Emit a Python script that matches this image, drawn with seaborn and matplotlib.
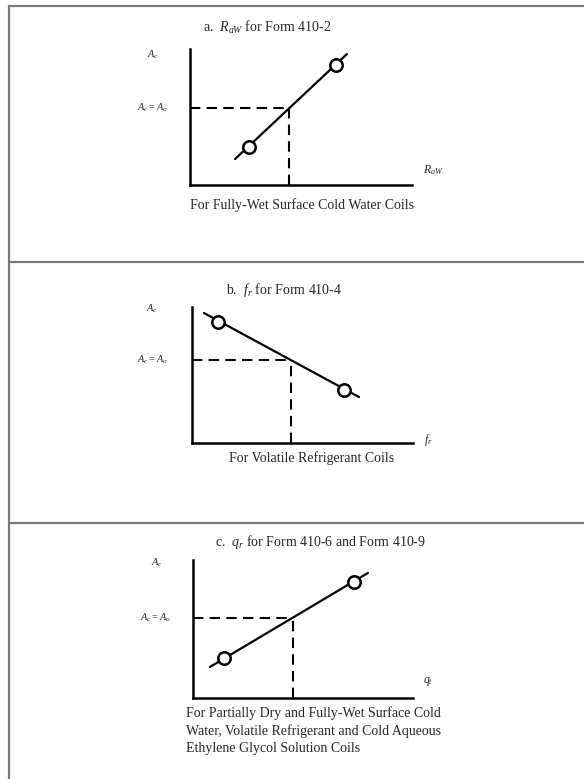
import seaborn as sns
import matplotlib.pyplot as plt
from matplotlib.lines import Line2D
import pandas as pd

# schematic lines (abstract units, axis box = 0..10 in both directions)
line_x_a = [2.03, 7.07]
line_y_a = [1.91, 9.63]
circ_x_a = [2.66, 6.58]
circ_y_a = [2.79, 8.82]
cross_a = [4.46, 5.66]

line_x_b = [0.54, 7.56]
line_y_b = [9.56, 3.38]
circ_x_b = [1.18, 6.88]
circ_y_b = [8.90, 3.90]
cross_b = [4.48, 6.10]

line_x_c = [0.77, 7.95]
line_y_c = [2.25, 9.06]
circ_x_c = [1.41, 7.32]
circ_y_c = [2.90, 8.41]
cross_c = [4.55, 5.80]

titles = ["a.  $R_{aW}$ for Form 410-2",
          "b.  $f_r$ for Form 410-4",
          "c.  $q_r$ for Form 410-6 and Form 410-9"]
xlabels = ["$R_{aW}$", "$f_r$", "$q_t$"]
captions = ["For Fully-Wet Surface Cold Water Coils",
            "For Volatile Refrigerant Coils",
            "For Partially Dry and Fully-Wet Surface Cold\n"
            "Water, Volatile Refrigerant and Cold Aqueous\n"
            "Ethylene Glycol Solution Coils"]

sns.set_style("white")
plt.rcParams['font.family'] = ['Liberation Serif', 'DejaVu Serif']
plt.rcParams['mathtext.fontset'] = 'custom'
plt.rcParams['mathtext.rm'] = 'Liberation Serif'
plt.rcParams['mathtext.it'] = 'Liberation Serif:italic'

W, H = 584, 779
fig = plt.figure(figsize=(W / 100, H / 100), dpi=100)


def fx(px):
    return px / W


def fy(py):
    return 1 - py / H


# outer frame and dividers
frame_col = "#7a7a7a"
for y in [6, 262, 523]:
    fig.add_artist(Line2D([fx(9), 1], [fy(y), fy(y)], color=frame_col, lw=1.6))
fig.add_artist(Line2D([fx(9), fx(9)], [fy(6), 0], color=frame_col, lw=1.6))

# per-panel layout in pixels: axis box, title pos, label pos, caption pos
boxes = [(190, 49, 412, 185), (192, 307, 413, 443), (193, 560, 413, 698)]
title_pos = [(267, 27), (284, 290), (320, 542)]
ac_pos = [(153, 55), (152, 309), (157, 563)]
aco_pos = [(152, 108), (152, 360), (155, 618)]
xl_pos = [(433, 170), (428, 440), (428, 682)]

data = [
    (line_x_a, line_y_a, circ_x_a, circ_y_a, cross_a),
    (line_x_b, line_y_b, circ_x_b, circ_y_b, cross_b),
    (line_x_c, line_y_c, circ_x_c, circ_y_c, cross_c),
]

for i, (lx, ly, cx, cy, cr) in enumerate(data):
    x0, y0, x1, y1 = boxes[i]
    ax = fig.add_axes([fx(x0), fy(y1), (x1 - x0) / W, (y1 - y0) / H])
    ax.set_xlim(0, 10)
    ax.set_ylim(0, 10)
    ax.set_facecolor("none")
    for s in ["top", "right"]:
        ax.spines[s].set_visible(False)
    for s in ["left", "bottom"]:
        ax.spines[s].set_color("black")
        ax.spines[s].set_linewidth(1.8)
    ax.set_xticks([])
    ax.set_yticks([])

    line_df = pd.DataFrame({"x": lx, "y": ly})
    sns.lineplot(data=line_df, x="x", y="y", ax=ax, color="black", lw=1.6)
    circ_df = pd.DataFrame({"x": cx, "y": cy})
    sns.scatterplot(data=circ_df, x="x", y="y", ax=ax, s=80, marker="o",
                    facecolor="white", edgecolor="black", linewidth=1.8,
                    zorder=5)
    # dashed guides to the operating point
    ax.plot([0, cr[0]], [cr[1], cr[1]], color="black", lw=1.5,
            ls=(0, (5, 3)), clip_on=False)
    ax.plot([cr[0], cr[0]], [0, cr[1]], color="black", lw=1.5,
            ls=(0, (5, 3)), clip_on=False)
    ax.set_xlabel("")
    ax.set_ylabel("")

    fig.text(fx(title_pos[i][0]), fy(title_pos[i][1]), titles[i],
             ha="center", va="center", fontsize=10)
    fig.text(fx(ac_pos[i][0]), fy(ac_pos[i][1]), "$A_c$",
             ha="center", va="center", fontsize=7.5)
    fig.text(fx(aco_pos[i][0]), fy(aco_pos[i][1]), "$A_c = A_o$",
             ha="center", va="center", fontsize=7.5)
    fig.text(fx(xl_pos[i][0]), fy(xl_pos[i][1]), xlabels[i],
             ha="center", va="center", fontsize=8.5)

fig.text(fx(302), fy(205), captions[0], ha="center", va="center", fontsize=10)
fig.text(fx(312), fy(458), captions[1], ha="center", va="center", fontsize=10)
fig.text(fx(186), fy(731), captions[2], ha="left", va="center", fontsize=10,
         linespacing=1.4)

fig.savefig("out.png", dpi=100)
